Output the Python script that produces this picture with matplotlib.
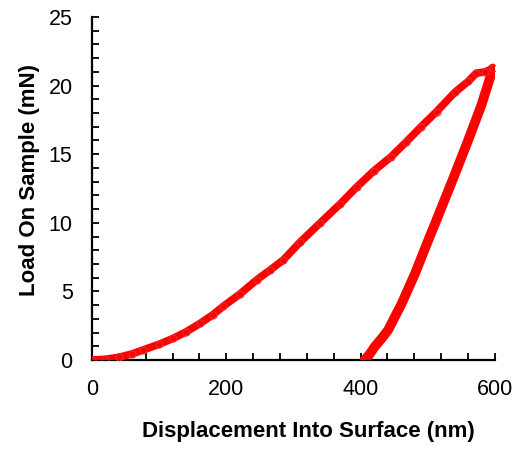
import matplotlib
matplotlib.use("Agg")
import matplotlib.pyplot as plt
from matplotlib.ticker import MultipleLocator

plt.rcParams['font.family'] = ['Liberation Sans', 'DejaVu Sans']

load_x = [0, 20, 40, 60, 76, 100, 121, 140, 161, 180, 195, 220, 245, 265, 285,
          310, 340, 370, 394, 420, 445, 468, 490, 513, 540, 560, 572, 585, 597]
load_y = [0, 0.05, 0.2, 0.45, 0.73, 1.15, 1.58, 2.05, 2.67, 3.3, 3.9, 4.8, 5.83,
          6.55, 7.3, 8.6, 10.0, 11.4, 12.6, 13.8, 14.8, 15.9, 17.0, 18.1, 19.5,
          20.3, 20.9, 21.0, 21.25]
unload_x = [597, 580, 560, 540, 515, 498, 481, 461, 441, 431, 421, 413, 406]
unload_y = [21.25, 18.6, 16.0, 13.5, 10.45, 8.4, 6.3, 4.1, 2.19, 1.55, 0.97, 0.4, 0]

x_ticks = [0, 200, 400, 600]
y_ticks = [0, 5, 10, 15, 20, 25]

fig = plt.figure(figsize=(5.21, 4.55), dpi=100)
ax = fig.add_axes([0.1766, 0.2088, 0.7734, 0.7538])

red = '#ff0000'
ax.plot(load_x, load_y, color=red, lw=5.5, solid_capstyle='round', zorder=3)
ax.plot(load_x, load_y, ls='none', marker='o', ms=5, mfc='none', mec='#e03030', mew=0.8, zorder=4)
ax.plot(unload_x, unload_y, color=red, lw=7, solid_capstyle='round', zorder=3)

ax.set_xlim(0, 600)
ax.set_ylim(0, 25)
ax.set_xticks(x_ticks)
ax.set_yticks(y_ticks)
ax.xaxis.set_minor_locator(MultipleLocator(40))
ax.yaxis.set_minor_locator(MultipleLocator(1))
for s in ['top', 'right']:
    ax.spines[s].set_visible(False)
for s in ['left', 'bottom']:
    ax.spines[s].set_linewidth(1.6)
ax.tick_params(which='both', direction='in', length=5, width=1.3, labelsize=15.5)
ax.tick_params(axis='x', pad=14)
ax.tick_params(axis='y', pad=14)
ax.set_xlabel('Displacement Into Surface (nm)', fontsize=16, fontweight='bold')
ax.set_ylabel('Load On Sample (mN)', fontsize=16, fontweight='bold')
ax.xaxis.set_label_coords(0.536, -0.178)
ax.yaxis.set_label_coords(-0.13, 0.525)

fig.savefig('out.png', dpi=100)
